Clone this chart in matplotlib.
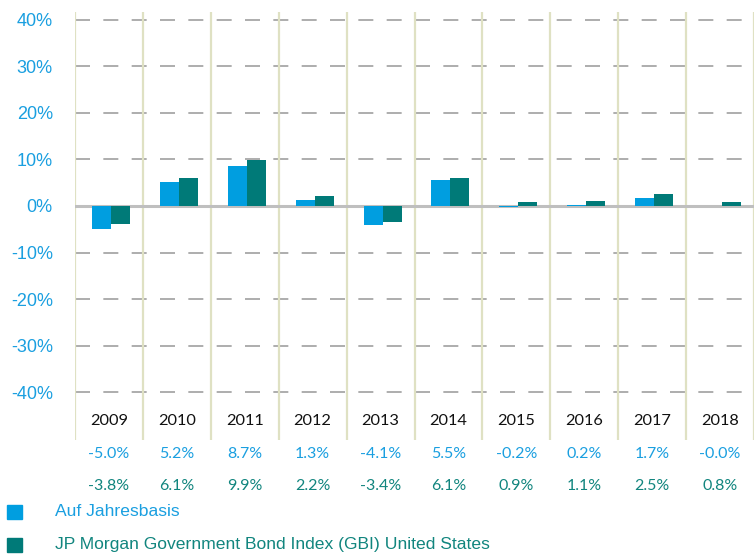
import matplotlib.pyplot as plt
from matplotlib.patches import Rectangle
from matplotlib.transforms import blended_transform_factory
import numpy as np

years = ["2009", "2010", "2011", "2012", "2013", "2014", "2015", "2016", "2017", "2018"]
annual = [-5.0, 5.2, 8.7, 1.3, -4.1, 5.5, -0.2, 0.2, 1.7, -0.04]
gbi_us = [-3.8, 6.1, 9.9, 2.2, -3.4, 6.1, 0.9, 1.1, 2.5, 0.8]
series_names = ["Auf Jahresbasis", "JP Morgan Government Bond Index (GBI) United States"]
yticks = [-40, -30, -20, -10, 0, 10, 20, 30, 40]

blue = "#009ee0"
teal = "#007a78"
blue_txt = "#1a9fe0"
teal_txt = "#11857e"

W, H = 754, 555
fig = plt.figure(figsize=(W / 100, H / 100), dpi=100)
ax = fig.add_axes([75 / W, (H - 440) / H, 679 / W, 428 / H])

x = np.arange(len(years)) + 0.03
bw = 0.28
ax.bar(x - bw / 2, annual, bw, color=blue, zorder=3)
ax.bar(x + bw / 2, gbi_us, bw, color=teal, zorder=3)

ax.set_xlim(-0.5, len(years) - 0.5)
ax.set_ylim(-50.3, 41.7)

for t in yticks:
    if t == 0:
        ax.axhline(0, color="#bfbfbf", lw=2.2, zorder=2)
    else:
        ax.axhline(t, color="#a0a0a0", lw=1.2, dashes=(9, 8), zorder=1)
for i in range(len(years) + 1):
    ax.axvline(i - 0.5, color="#dfe1c3", lw=1.6, zorder=1)

for s in ax.spines.values():
    s.set_visible(False)
ax.set_xticks([])
ax.set_yticks(yticks)
ax.set_yticklabels([f"{t}%" for t in yticks], fontsize=13, color=blue_txt,
                   family="Liberation Sans")
ax.tick_params(axis="y", length=0, pad=16)

tr = blended_transform_factory(ax.transData, fig.transFigure)
for i, yr in enumerate(years):
    ax.text(i, 1 - 421 / H, yr, transform=tr, ha="center", va="center",
            fontsize=11.8, family="Lato", color="#111111")
    ax.text(i, 1 - 454 / H, f"{annual[i]:.1f}%", transform=tr, ha="center",
            va="center", fontsize=11.5, family="Lato", color=blue_txt)
    ax.text(i, 1 - 486 / H, f"{gbi_us[i]:.1f}%", transform=tr, ha="center",
            va="center", fontsize=11.5, family="Lato", color=teal_txt)

for name, col, tcol, yc in [(series_names[0], blue, blue_txt, 512),
                            (series_names[1], teal, teal_txt, 545)]:
    fig.patches.append(Rectangle((7 / W, 1 - (yc + 7) / H), 15 / W, 14 / H,
                                 transform=fig.transFigure, color=col))
    fig.text(55 / W, 1 - yc / H, name, ha="left", va="center", fontsize=12.6,
             family="Liberation Sans", color=tcol)

fig.savefig("out.png", dpi=100)
